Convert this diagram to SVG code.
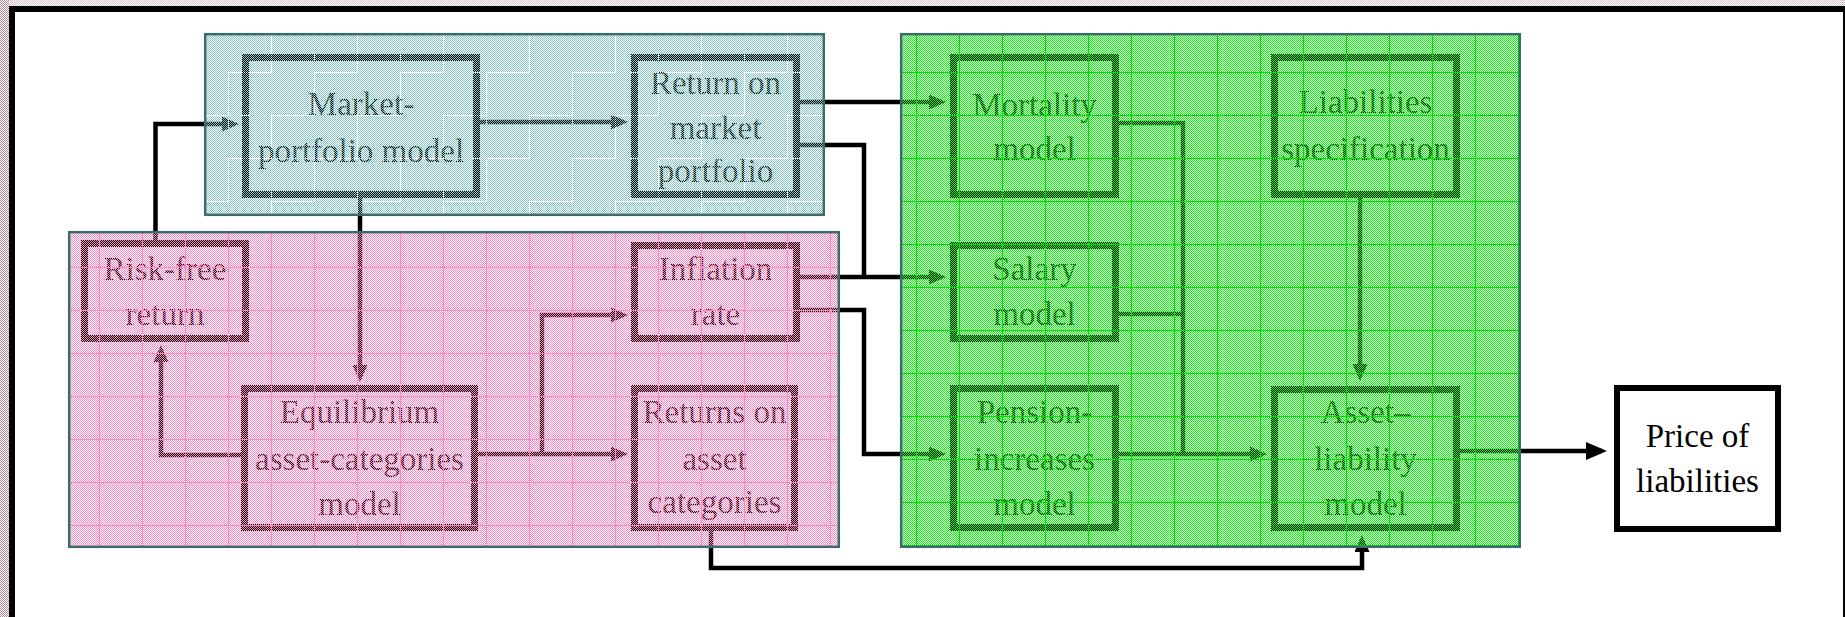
<svg xmlns="http://www.w3.org/2000/svg" width="1845" height="617" viewBox="0 0 1845 617">
<style>
.box{fill:none;stroke:#000;stroke-width:7}
.t{font-family:"Liberation Serif","Times New Roman",serif;font-size:33px;text-anchor:middle;fill:#000}
.c{fill:none;stroke:#000;stroke-width:4.5;stroke-linejoin:miter}
.reg{fill:none;stroke:#3d6b6b;stroke-width:2.5}
</style>
<defs>
<pattern id="pk" width="2" height="2" patternUnits="userSpaceOnUse"><rect width="1" height="1" fill="#ff88c4"/><rect x="1" y="1" width="1" height="1" fill="#ff88c4"/></pattern>
<pattern id="tl" width="2" height="2" patternUnits="userSpaceOnUse"><rect width="1" height="1" fill="#84c6c6"/><rect x="1" y="1" width="1" height="1" fill="#84c6c6"/></pattern>
<pattern id="gr" width="2" height="2" patternUnits="userSpaceOnUse"><rect width="1" height="1" fill="#00ff00"/><rect x="1" y="1" width="1" height="1" fill="#00ff00"/></pattern>
<pattern id="rose" width="2" height="2" patternUnits="userSpaceOnUse"><rect width="1" height="1" fill="#b88890"/><rect x="1" y="1" width="1" height="1" fill="#b88890"/></pattern>
<pattern id="pkG" width="43" height="43" x="13" y="9" patternUnits="userSpaceOnUse"><path d="M0,0.5H43M0.5,0V43" stroke="#ff88c4" stroke-width="1"/></pattern>
<pattern id="tlG" width="43" height="43" x="13" y="29" patternUnits="userSpaceOnUse"><path d="M0,0.5H43M0.5,0V43" stroke="#ffffff" stroke-width="1" stroke-dasharray="1 1"/></pattern>
<pattern id="grG" width="43" height="43" x="13" y="29" patternUnits="userSpaceOnUse"><path d="M0,0.5H43M0.5,0V43" stroke="#00e000" stroke-width="1"/></pattern>
<marker id="ah" markerUnits="userSpaceOnUse" markerWidth="17" markerHeight="15" refX="12" refY="7.5" orient="auto"><path d="M0,0L17,7.5L0,15z" fill="#000"/></marker>
<marker id="ahB" markerUnits="userSpaceOnUse" markerWidth="21" markerHeight="18" refX="16" refY="9" orient="auto"><path d="M0,0L21,9L0,18z" fill="#000"/></marker>
</defs>
<rect width="1845" height="617" fill="#fff"/>
<rect x="0" y="0" width="9" height="617" fill="url(#rose)"/>
<rect x="9" y="0" width="1836" height="6" fill="url(#rose)" opacity="0.55"/>
<rect x="12" y="9" width="1834" height="700" fill="none" stroke="#000" stroke-width="6"/>
<g id="connectors">
<path class="c" d="M155.5,243V124H234" marker-end="url(#ah)"/>
<path class="c" d="M480,122H623" marker-end="url(#ah)"/>
<path class="c" d="M360,198V377" marker-end="url(#ah)"/>
<path class="c" d="M241,455H161V350" marker-end="url(#ah)"/>
<path class="c" d="M478,454H623" marker-end="url(#ah)"/>
<path class="c" d="M542,454V315H623" marker-end="url(#ah)"/>
<path class="c" d="M800,102H941" marker-end="url(#ah)"/>
<path class="c" d="M800,145H864V277"/>
<path class="c" d="M800,277H941" marker-end="url(#ah)"/>
<path class="c" d="M800,310H864V454H941" marker-end="url(#ah)"/>
<path class="c" d="M1119,123H1183V454"/>
<path class="c" d="M1119,314H1183"/>
<path class="c" d="M1119,454H1262" marker-end="url(#ah)"/>
<path class="c" d="M1360,198V376" marker-end="url(#ah)"/>
<path class="c" d="M711,531V568H1362V540" marker-end="url(#ah)"/>
<path class="c" d="M1460,451H1602" marker-end="url(#ahB)"/>
</g>
<g id="market-portfolio-model"><rect class="box" x="245.5" y="57.5" width="231" height="137"/><text class="t" x="361" y="115">Market-</text><text class="t" x="361" y="162">portfolio model</text></g>
<g id="return-on-market-portfolio"><rect class="box" x="634.5" y="57.5" width="162" height="137"/><text class="t" x="715.5" y="94">Return on</text><text class="t" x="715.5" y="139">market</text><text class="t" x="715.5" y="182">portfolio</text></g>
<g id="mortality-model"><rect class="box" x="953.5" y="57.5" width="162" height="137"/><text class="t" x="1034.5" y="116">Mortality</text><text class="t" x="1034.5" y="160">model</text></g>
<g id="liabilities-specification"><rect class="box" x="1274.5" y="57.5" width="182" height="137"/><text class="t" x="1365.5" y="113">Liabilities</text><text class="t" x="1365.5" y="160">specification</text></g>
<g id="risk-free-return"><rect class="box" x="84.5" y="243.5" width="161" height="95"/><text class="t" x="165" y="280">Risk-free</text><text class="t" x="165" y="325">return</text></g>
<g id="inflation-rate"><rect class="box" x="634.5" y="245.5" width="162" height="93"/><text class="t" x="715.5" y="280">Inflation</text><text class="t" x="715.5" y="325">rate</text></g>
<g id="salary-model"><rect class="box" x="953.5" y="245.5" width="162" height="93"/><text class="t" x="1034.5" y="280">Salary</text><text class="t" x="1034.5" y="325">model</text></g>
<g id="equilibrium-model"><rect class="box" x="244.5" y="388.5" width="230" height="139"/><text class="t" x="359.5" y="423">Equilibrium</text><text class="t" x="359.5" y="470">asset-categories</text><text class="t" x="359.5" y="515">model</text></g>
<g id="returns-on-asset-categories"><rect class="box" x="634.5" y="388.5" width="160" height="139"/><text class="t" x="714.5" y="423">Returns on</text><text class="t" x="714.5" y="470">asset</text><text class="t" x="714.5" y="513">categories</text></g>
<g id="pension-increases-model"><rect class="box" x="953.5" y="388.5" width="162" height="139"/><text class="t" x="1034.5" y="423">Pension-</text><text class="t" x="1034.5" y="470">increases</text><text class="t" x="1034.5" y="515">model</text></g>
<g id="asset-liability-model"><rect class="box" x="1274.5" y="389.5" width="182" height="138"/><text class="t" x="1365.5" y="423">Asset–</text><text class="t" x="1365.5" y="470">liability</text><text class="t" x="1365.5" y="515">model</text></g>
<g id="regions">
<rect x="204" y="33" width="621" height="183" fill="url(#tl)"/>
<rect x="204" y="33" width="621" height="183" fill="url(#tlG)"/>
<rect class="reg" x="205.2" y="34.2" width="618.6" height="180.6"/>
<rect x="68" y="231" width="772" height="317" fill="url(#pk)"/>
<rect x="68" y="231" width="772" height="317" fill="url(#pkG)"/>
<rect class="reg" x="69.2" y="232.2" width="769.6" height="314.6"/>
<rect x="900" y="33" width="621" height="515" fill="url(#gr)"/>
<rect x="900" y="33" width="621" height="515" fill="url(#grG)"/>
<rect class="reg" x="901.2" y="34.2" width="618.6" height="512.6"/>
</g>
<g id="price-of-liabilities"><rect x="1617" y="388" width="161" height="141" fill="#fff" stroke="#000" stroke-width="6"/><text class="t" x="1697.5" y="447">Price of</text><text class="t" x="1697.5" y="492">liabilities</text></g>
</svg>
